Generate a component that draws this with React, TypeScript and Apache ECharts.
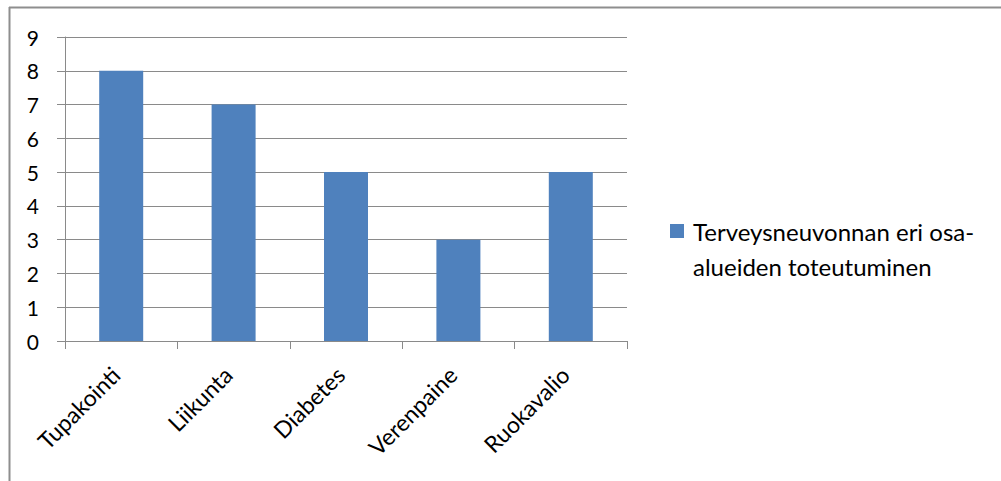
import React, { useEffect, useRef } from "react";
import * as echarts from "echarts";

const categories = ["Tupakointi", "Liikunta", "Diabetes", "Verenpaine", "Ruokavalio"];
const values = [8, 7, 5, 3, 5];
const seriesName = "Terveysneuvonnan eri osa-alueiden toteutuminen";
const legendLines = ["Terveysneuvonnan eri osa-", "alueiden toteutuminen"];
const yTicks = { min: 0, max: 9, interval: 1 };

const FONT = "Lato";
const GRID = "#8a8a8a";
const LEGEND_LINE = 35;

export default function App() {
  const ref = useRef<HTMLDivElement>(null);

  useEffect(() => {
    if (!ref.current) return;
    const chart = echarts.init(ref.current, null, { renderer: "svg" });
    chart.setOption({
      animation: false,
      backgroundColor: "#ffffff",
      grid: { left: 65, right: 374, top: 37, bottom: 140 },
      xAxis: {
        type: "category",
        data: categories,
        boundaryGap: true,
        axisLine: { show: true, lineStyle: { color: GRID, width: 1 } },
        axisTick: { show: true, length: 8, alignWithLabel: false, lineStyle: { color: GRID } },
        axisLabel: {
          rotate: 45,
          margin: 24,
          padding: [0, 8, 0, 0],
          interval: 0,
          color: "#000000",
          fontFamily: FONT,
          fontSize: 23,
        },
      },
      yAxis: {
        type: "value",
        min: yTicks.min,
        max: yTicks.max,
        interval: yTicks.interval,
        axisLine: { show: true, lineStyle: { color: GRID, width: 1 } },
        axisTick: { show: true, length: 8, lineStyle: { color: GRID } },
        splitLine: { show: true, lineStyle: { color: GRID, width: 1 } },
        axisLabel: {
          margin: 26,
          color: "#000000",
          fontFamily: FONT,
          fontSize: 21,
        },
      },
      legend: {
        data: [seriesName],
        orient: "vertical",
        left: 670,
        top: 231 - 1.5 * LEGEND_LINE,
        padding: 0,
        itemWidth: 14,
        itemHeight: 14,
        itemGap: 0,
        icon: "rect",
        // a blank first line keeps the marker level with the first text line
        formatter: () => " \n" + legendLines.map((l) => `{t|${l}}`).join("\n"),
        textStyle: {
          color: "#000000",
          fontFamily: FONT,
          fontSize: 24,
          lineHeight: LEGEND_LINE,
          rich: {
            t: {
              fontFamily: FONT,
              fontSize: 24,
              lineHeight: LEGEND_LINE,
              color: "#000000",
              padding: [0, 0, 0, 4],
            },
          },
        },
      },
      graphic: [
        {
          type: "line",
          shape: { x1: 9, y1: 7.5, x2: 1001, y2: 7.5 },
          style: { stroke: "#8e8e8e", lineWidth: 2 },
          silent: true,
        },
        {
          type: "line",
          shape: { x1: 9.5, y1: 7, x2: 9.5, y2: 481 },
          style: { stroke: "#8e8e8e", lineWidth: 2 },
          silent: true,
        },
      ],
      series: [
        {
          name: seriesName,
          type: "bar",
          data: values,
          barWidth: 44,
          itemStyle: { color: "#4F81BD" },
        },
      ],
    });
    return () => chart.dispose();
  }, []);

  return (
    <div
      ref={ref}
      style={{ position: "absolute", left: 0, top: 0, width: 1001, height: 481 }}
    />
  );
}
